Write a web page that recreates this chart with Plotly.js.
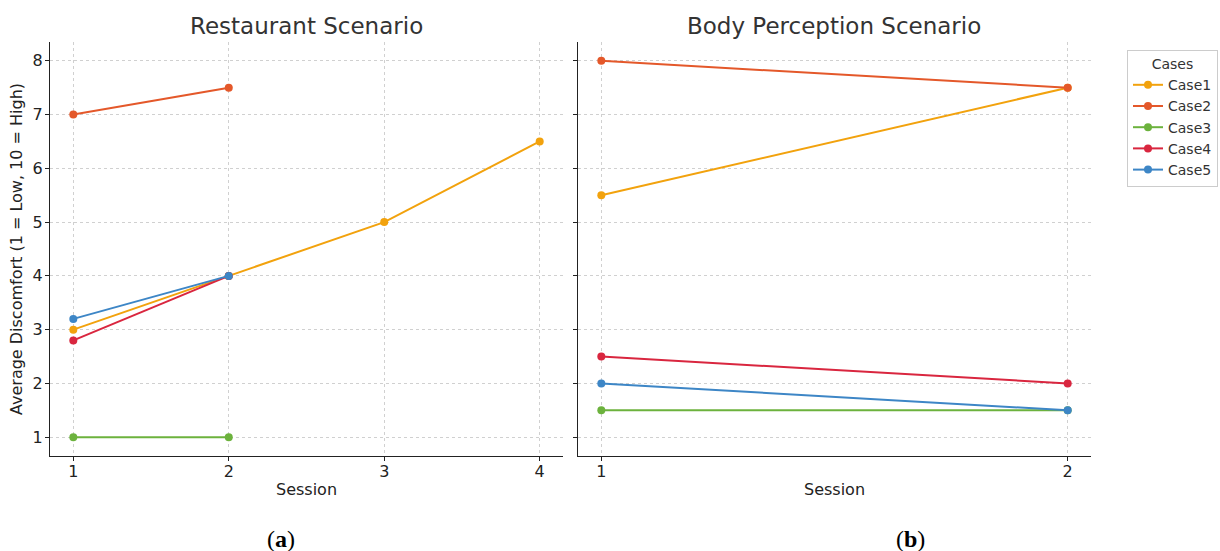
<!DOCTYPE html>
<html><head><meta charset="utf-8">
<script src="https://cdn.plot.ly/plotly-3.0.1.min.js"></script>
<style>html,body{margin:0;padding:0;background:#fff;}</style>
</head><body>
<div id="chart" style="width:1220px;height:551px;"></div>
<script>
const caseNames = ["Case1","Case2","Case3","Case4","Case5"];
const caseColors = ["#f2a20d","#e4582a","#6cb23d","#d9263f","#3d86c6"];
// Restaurant Scenario
const restSessions = [[1,2,3,4],[1,2],[1,2],[1,2],[1,2]];
const restValues = [[3,4,5,6.5],[7,7.5],[1,1],[2.8,4],[3.2,4]];
// Body Perception Scenario
const bodySessions = [[1,2],[1,2],[1,2],[1,2],[1,2]];
const bodyValues = [[5.5,7.5],[8,7.5],[1.5,1.5],[2.5,2],[2,1.5]];
const yTicks = [1,2,3,4,5,6,7,8];

const traces = [];
caseNames.forEach((n,i)=>{
  traces.push({x:restSessions[i], y:restValues[i], xaxis:'x', yaxis:'y', mode:'lines+markers', name:n, legendgroup:n,
    line:{color:caseColors[i], width:2}, marker:{color:caseColors[i], size:8}});
});
caseNames.forEach((n,i)=>{
  traces.push({x:bodySessions[i], y:bodyValues[i], xaxis:'x2', yaxis:'y2', mode:'lines+markers', name:n, legendgroup:n, showlegend:false,
    line:{color:caseColors[i], width:2}, marker:{color:caseColors[i], size:8}});
});
const FF = 'DejaVu Sans, sans-serif';
const font = {family:FF, color:'#222'};
const axBase = {showline:true, linecolor:'#222', linewidth:1.3, ticks:'outside', ticklen:4, tickcolor:'#222', tickwidth:1.2,
  showgrid:true, gridcolor:'#d0d0d0', griddash:'3px,3px', gridwidth:1, zeroline:false, tickfont:{size:16, family:FF, color:'#222'}, mirror:false};
const layout = {
  width:1220, height:551, paper_bgcolor:'#fff', plot_bgcolor:'#fff', font:font,
  margin:{l:50, r:129, t:42, b:95, autoexpand:false},
  showlegend:true,
  legend:{x:(1127-50)/1041, xref:'paper', y:(456-50)/414, yref:'paper', xanchor:'left', yanchor:'top',
    bordercolor:'#cccccc', borderwidth:1, bgcolor:'#fff', font:{size:14, family:FF, color:'#333'},
    title:{text:'Cases', side:'top center', font:{size:14, family:FF, color:'#333'}}, tracegroupgap:0, itemwidth:30},
  xaxis:Object.assign({}, axBase, {domain:[0,0.4928], range:[0.85,4.15], tickvals:[1,2,3,4], ticklabelstandoff:-3,
    title:{text:'Session', font:{size:16, family:FF, color:'#222'}, standoff:3}}),
  yaxis:Object.assign({}, axBase, {range:[0.65,8.35], tickvals:yTicks, anchor:'x', ticklabelstandoff:-1,
    title:{text:'Average Discomfort (1 = Low, 10 = High)', font:{size:16, family:FF, color:'#222'}, standoff:5}}),
  xaxis2:Object.assign({}, axBase, {domain:[0.5072,1], range:[0.95,2.05], tickvals:[1,2], anchor:'y2', ticklabelstandoff:-3,
    title:{text:'Session', font:{size:16, family:FF, color:'#222'}, standoff:3}}),
  yaxis2:Object.assign({}, axBase, {range:[0.65,8.35], tickvals:yTicks, anchor:'x2', showticklabels:false}),
  annotations:[
    {text:'Restaurant Scenario', xref:'paper', yref:'paper', x:0.2464, xanchor:'center', y:1, yanchor:'bottom', yshift:1, showarrow:false, font:{size:23, family:FF, color:'#333'}},
    {text:'Body Perception Scenario', xref:'paper', yref:'paper', x:0.7536, xanchor:'center', y:1, yanchor:'bottom', yshift:1, showarrow:false, font:{size:23, family:FF, color:'#333'}},
    {text:'(<b>a</b>)', xref:'paper', yref:'paper', x:(281-50)/1041, xanchor:'center', y:-(539-456)/414, yanchor:'middle', showarrow:false, font:{size:24, family:'Liberation Serif, serif', color:'#000'}},
    {text:'(<b>b</b>)', xref:'paper', yref:'paper', x:(910-50)/1041, xanchor:'center', y:-(539-456)/414, yanchor:'middle', showarrow:false, font:{size:24, family:'Liberation Serif, serif', color:'#000'}}
  ]
};
Plotly.newPlot('chart', traces, layout, {displayModeBar:false});
</script>
</body></html>
